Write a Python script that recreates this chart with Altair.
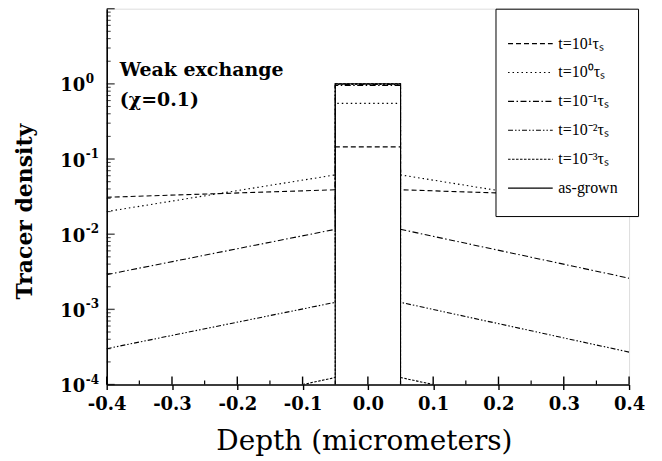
import altair as alt
import pandas as pd

# ---- data ----
labels = ["t=10¹τₛ", "t=10⁰τₛ", "t=10⁻¹τₛ", "t=10⁻²τₛ", "t=10⁻³τₛ", "as-grown"]

depth_main = [-0.4, -0.05, -0.05, 0.05, 0.05, 0.4]
t_p1 = [0.031, 0.039, 0.145, 0.145, 0.039, 0.031]
t_0 = [0.020, 0.0615, 0.55, 0.55, 0.0615, 0.020]
t_m1 = [0.0029, 0.0116, 0.95, 0.95, 0.0116, 0.0026]
t_m2 = [0.00030, 0.00124, 0.98, 0.98, 0.00124, 0.00027]
depth_m3 = [-0.1, -0.05, -0.05, 0.05, 0.05, 0.1]
t_m3 = [0.0001, 0.000124, 1.0, 1.0, 0.000124, 0.0001]
depth_grown = [-0.05, -0.05, 0.05, 0.05]
grown = [0.0001, 1.0, 1.0, 0.0001]

x_major = [-0.4, -0.3, -0.2, -0.1, 0.0, 0.1, 0.2, 0.3, 0.4]
x_minor = [-0.35, -0.25, -0.15, -0.05, 0.05, 0.15, 0.25, 0.35]
y_major = [1e-4, 1e-3, 1e-2, 1e-1, 1e0, 1e1]
y_labels = [1e-4, 1e-3, 1e-2, 1e-1, 1e0]
y_exps = ["-4", "-3", "-2", "-1", "0"]
y_minor = [m * d for d in [1e-4, 1e-3, 1e-2, 1e-1, 1e0] for m in range(2, 10)]
y_bottom = 1e-4

notes = ["Weak exchange", "(χ=0.1)"]
note_x = [-0.38, -0.38]
note_y = [1.29, 0.50]

dashes = [[5, 3], [1.5, 3], [6, 2.5, 1.5, 2.5], [5, 2, 1.5, 2, 1.5, 2], [2.5, 1.5], [1, 0]]
widths = [1.1, 1.1, 1.1, 1.1, 1.1, 1.7]

series = [
    (labels[0], depth_main, t_p1),
    (labels[1], depth_main, t_0),
    (labels[2], depth_main, t_m1),
    (labels[3], depth_main, t_m2),
    (labels[4], depth_m3, t_m3),
    (labels[5], depth_grown, grown),
]
rows = []
for lab, xs, ys in series:
    for i, (xv, yv) in enumerate(zip(xs, ys)):
        rows.append({"label": lab, "idx": i, "depth": xv, "density": yv})
df = pd.DataFrame(rows)

W, H = 524, 377
BOLD = "DejaVu Serif"
decade_px = H / 5.0

xscale = alt.Scale(domain=[-0.4, 0.4], nice=False, zero=False)
yscale = alt.Scale(type="log", domain=[1e-4, 10], nice=False)

xaxis = alt.Axis(
    values=x_major, ticks=True, tickSize=5, tickWidth=1.4, tickColor="black",
    grid=False, labelFlush=False, labelOverlap=False,
    labelExpr="(datum.value < -0.001 ? '-' : '') + format(abs(datum.value), '.1f')",
    labelFont=BOLD, labelFontWeight="bold", labelFontSize=18, labelPadding=6,
    labelColor="black",
    title="Depth (micrometers)", titleFont="DejaVu Serif", titleFontWeight="normal",
    titleFontSize=28, titleColor="black", titleX=258, titleY=65,
    titleAlign="center", titleBaseline="alphabetic",
    domainColor="black", domainWidth=1.6,
)
yaxis = alt.Axis(
    values=y_labels, ticks=False, grid=False, labelFlush=False, labelOverlap=False,
    labelExpr="'10'", labelFont=BOLD, labelFontWeight="bold", labelFontSize=18,
    labelPadding=22, labelOffset=2, labelColor="black",
    title="Tracer density", titleFont=BOLD, titleFontWeight="bold", titleFontSize=22,
    titleColor="black", titleX=-75, titleY=203, titleAlign="center",
    titleBaseline="alphabetic", titleAngle=-90,
    domainColor="black", domainWidth=1.6,
)

X = alt.X("depth:Q", scale=xscale, axis=xaxis)
Y = alt.Y("density:Q", scale=yscale, axis=yaxis)

lines = alt.Chart(df).mark_line(color="black", clip=True).encode(
    x=X, y=Y,
    strokeDash=alt.StrokeDash(
        "label:N", sort=labels,
        scale=alt.Scale(domain=labels, range=dashes),
        legend=alt.Legend(
            title=None, orient="none", legendX=390, legendY=0,
            padding=20, rowPadding=6,
            symbolType="M-1.6,0L1.6,0", symbolSize=784,
            symbolStrokeWidth=1, symbolStrokeColor="black",
            labelFont="Liberation Serif", labelFontSize=16, labelOffset=13,
            labelColor="black", labelLimit=200,
            strokeColor="black", fillColor="white",
        ),
    ),
    strokeWidth=alt.StrokeWidth("label:N", scale=alt.Scale(domain=labels, range=widths), legend=None),
    order="idx:Q",
)

# inward x tick marks: rules from the bottom of the log scale up by a fixed pixel length
xt_major = pd.DataFrame({"depth": x_major, "density": [y_bottom] * len(x_major),
                         "top": [y_bottom * 10 ** (8 / decade_px)] * len(x_major)})
xt_minor = pd.DataFrame({"depth": x_minor, "density": [y_bottom] * len(x_minor),
                         "top": [y_bottom * 10 ** (4 / decade_px)] * len(x_minor)})
yt_major = pd.DataFrame({"density": y_major})
yt_minor = pd.DataFrame({"density": y_minor})

xtm = alt.Chart(xt_major).mark_rule(color="black", strokeWidth=1.4).encode(
    x=alt.X("depth:Q", scale=xscale), y=alt.Y("density:Q", scale=yscale), y2="top:Q")
xtn = alt.Chart(xt_minor).mark_rule(color="black", strokeWidth=1.2).encode(
    x=alt.X("depth:Q", scale=xscale), y=alt.Y("density:Q", scale=yscale), y2="top:Q")
ytm = alt.Chart(yt_major).mark_tick(
    color="black", size=8, thickness=1.4, orient="horizontal"
).encode(y=alt.Y("density:Q", scale=yscale), x=alt.value(4))
ytn = alt.Chart(yt_minor).mark_tick(
    color="black", size=4, thickness=1.1, orient="horizontal"
).encode(y=alt.Y("density:Q", scale=yscale), x=alt.value(2))

exps = alt.Chart(pd.DataFrame({"density": y_labels, "exp": y_exps})).mark_text(
    align="left", baseline="middle", font=BOLD, fontWeight="bold", fontSize=12,
    dy=-5, color="black",
).encode(y=Y, x=alt.value(-21), text="exp:N")

ann = alt.Chart(pd.DataFrame({"depth": note_x, "density": note_y, "txt": notes})).mark_text(
    align="left", baseline="alphabetic", font=BOLD, fontWeight="bold", fontSize=19,
    color="black",
).encode(x=X, y=Y, text="txt:N")

chart = alt.layer(lines, xtm, xtn, ytm, ytn, exps, ann).properties(
    width=W, height=H,
    autosize=alt.AutoSizeParams(type="none"),
    padding={"left": 99, "top": 0, "right": 25, "bottom": 74},
).configure_view(stroke=None).configure(background="white")

chart.save("out.html", embed_options={"renderer": "svg", "actions": False})
